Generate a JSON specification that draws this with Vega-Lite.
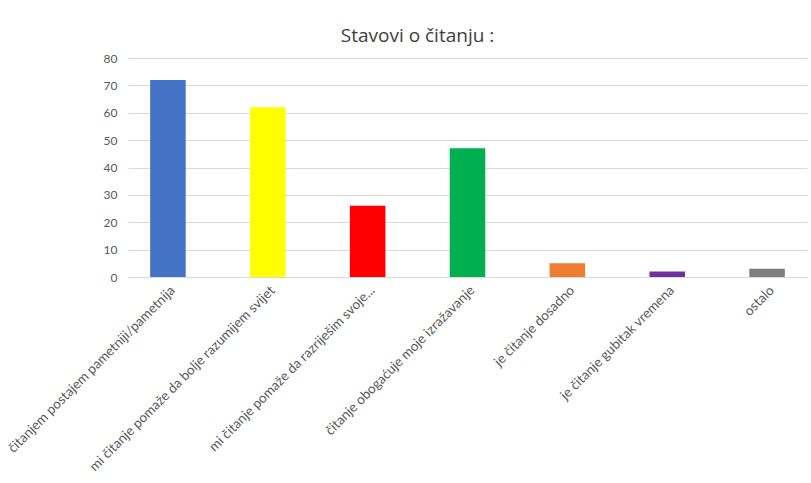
{
  "$schema": "https://vega.github.io/schema/vega-lite/v6.json",
  "autosize": {"type": "none"},
  "width": 679,
  "height": 219,
  "padding": {"left": 128, "top": 58, "right": 4, "bottom": 206},
  "background": "white",
  "config": {
    "view": {"stroke": null},
    "font": "Lato"
  },
  "title": {
    "text": "Stavovi o čitanju :",
    "fontSize": 19,
    "fontWeight": "normal",
    "color": "#404040",
    "font": "Open Sans",
    "anchor": "middle",
    "dx": -50,
    "offset": 6
  },
  "data": {
    "values": [
      {"stav": "čitanjem postajem pametniji/pametnija", "broj": 72},
      {"stav": "mi čitanje pomaže da bolje razumijem svijet", "broj": 62},
      {"stav": "mi čitanje pomaže da razriješim svoje...", "broj": 26},
      {"stav": "čitanje obogaćuje moje izražavanje", "broj": 47},
      {"stav": "je čitanje dosadno", "broj": 5},
      {"stav": "je čitanje gubitak vremena", "broj": 2},
      {"stav": "ostalo", "broj": 3}
    ]
  },
  "mark": {"type": "bar"},
  "encoding": {
    "x": {
      "field": "stav",
      "type": "nominal",
      "sort": null,
      "title": null,
      "scale": {"paddingInner": 0.644, "paddingOuter": 0.222},
      "axis": {
        "labelAngle": -45,
        "labelAlign": "right",
        "labelBaseline": "top",
        "labelFontSize": 13.5,
        "labelColor": "#595959",
        "labelLimit": 400,
        "labelPadding": 6,
        "ticks": false,
        "domainColor": "#D9D9D9",
        "domainWidth": 1,
        "grid": false
      }
    },
    "y": {
      "field": "broj",
      "type": "quantitative",
      "title": null,
      "scale": {"domain": [0, 80]},
      "axis": {
        "values": [0, 10, 20, 30, 40, 50, 60, 70, 80],
        "labelFontSize": 12,
        "labelColor": "#595959",
        "labelPadding": 11,
        "ticks": false,
        "domain": false,
        "gridColor": "#D9D9D9",
        "gridWidth": 1
      }
    },
    "color": {
      "field": "stav",
      "type": "nominal",
      "legend": null,
      "scale": {
        "domain": [
          "čitanjem postajem pametniji/pametnija",
          "mi čitanje pomaže da bolje razumijem svijet",
          "mi čitanje pomaže da razriješim svoje...",
          "čitanje obogaćuje moje izražavanje",
          "je čitanje dosadno",
          "je čitanje gubitak vremena",
          "ostalo"
        ],
        "range": ["#4472C4", "#FFFF00", "#FF0000", "#00B050", "#ED7D31", "#7030A0", "#7F7F7F"]
      }
    }
  }
}
